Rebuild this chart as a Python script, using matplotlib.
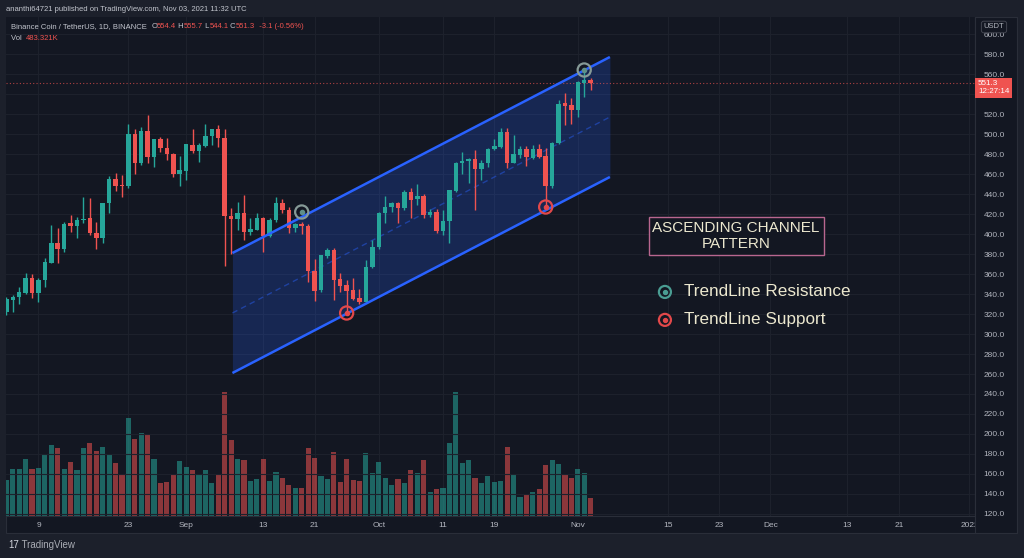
import numpy as np
import pandas as pd
import matplotlib
matplotlib.use('Agg')
import matplotlib.pyplot as plt
import matplotlib.dates as mdates
from matplotlib.patches import Rectangle
from matplotlib.text import Annotation

plt.rcParams['font.family'] = ['Liberation Sans', 'DejaVu Sans']

# BNB / USDT daily candles (first candle 4 Aug 2021)
start = '2021-08-04'
opens = [322, 334, 337, 341, 356, 341, 354, 371, 391, 385,
         411, 408, 414, 416, 401, 396, 431, 455, 449, 448,
         500, 471, 503, 477, 495, 486, 480, 460, 463, 489,
         483, 488, 498, 505, 496, 418, 415, 421, 402, 404,
         416, 398, 414, 431, 424, 406, 410, 408, 363, 344,
         378, 384, 355, 349, 344, 336, 332, 367, 387, 421,
         427, 431, 426, 442, 435, 438, 419, 422, 403, 413,
         443, 471, 473, 475, 465, 471, 485, 487, 502, 471,
         479, 485, 476, 485, 478, 448, 491, 531, 529, 524,
         551, 554.4]
highs = [337, 339, 347, 361, 360, 356, 376, 409, 406, 412,
         419, 417, 437, 436, 412, 431, 458, 461, 459, 510,
         505, 507, 519, 495, 497, 496, 481, 478, 490, 505,
         491, 510, 505, 509, 505, 426, 432, 439, 416, 421,
         417, 416, 437, 435, 427, 411, 412, 410, 375, 379,
         386, 386, 361, 354, 356, 345, 374, 394, 422, 438,
         432, 432, 444, 446, 450, 440, 425, 425, 424, 444,
         472, 482, 476, 484, 474, 486, 495, 506, 506, 499,
         488, 488, 489, 490, 486, 492, 534, 541, 536, 553,
         564, 555.7]
lows = [319, 322, 330, 340, 336, 332, 347, 371, 371, 382,
        402, 396, 411, 399, 385, 391, 421, 443, 437, 446,
        460, 469, 471, 467, 482, 474, 457, 448, 454, 481,
        472, 487, 489, 487, 368, 380, 404, 394, 399, 404,
        382, 397, 412, 421, 401, 402, 400, 352, 333, 342,
        376, 334, 342, 321, 334, 330, 332, 366, 385, 411,
        422, 411, 424, 416, 429, 416, 417, 401, 399, 391,
        442, 460, 451, 424, 454, 467, 484, 486, 466, 471,
        476, 468, 475, 476, 427, 446, 490, 509, 510, 517,
        537, 544.1]
closes = [335, 337, 342, 356, 341, 354, 372, 391, 385, 410,
          408, 414, 415, 401, 396, 431, 455, 448, 448, 500,
          471, 503, 477, 495, 486, 480, 460, 464, 490, 483,
          489, 498, 505, 496, 418, 415, 421, 402, 405, 416,
          398, 414, 431, 424, 406, 410, 408, 363, 343, 379,
          384, 354, 348, 343, 335, 332, 367, 387, 421, 427,
          431, 426, 442, 434, 438, 419, 422, 403, 413, 444,
          471, 473, 475, 465, 471, 485, 488, 502, 471, 480,
          485, 477, 485, 477, 448, 491, 530, 528, 524, 552,
          554, 551.3]
volume_k = [950, 1233, 1241, 1513, 1241, 1259, 1610, 1866, 1787, 1233,
            1418, 1214, 1787, 1927, 1716, 1814, 1637, 1391, 1109, 2595,
            2025, 2183, 2165, 1505, 879, 898, 1090, 1452, 1294, 1214,
            1074, 1206, 863, 1090, 3266, 2006, 1505, 1486, 916, 969,
            1497, 916, 1154, 1011, 818, 731, 731, 1803, 1539, 1056,
            977, 1682, 898, 1497, 950, 916, 1663, 1143, 1418, 1011,
            818, 969, 863, 1214, 1127, 1470, 626, 713, 747, 1919,
            3282, 1391, 1478, 1011, 871, 1056, 890, 932, 1814, 1090,
            510, 581, 626, 705, 1346, 1478, 1373, 1082, 995, 1241,
            1127, 483.3]

# ascending channel drawing
channel_dates = ['2021-09-08 05:00', '2021-11-06 00:00']
channel_upper = [381, 577]
channel_lower = [261, 457]

resist_dates = ['2021-09-19', '2021-11-02']
resist_prices = [422, 564]
support_dates = ['2021-09-26', '2021-10-27']
support_prices = [321, 427]

tick_dates = ['2021-08-09', '2021-08-23', '2021-09-01', '2021-09-13', '2021-09-21',
              '2021-10-01', '2021-10-11', '2021-10-19', '2021-11-01', '2021-11-15',
              '2021-11-23', '2021-12-01', '2021-12-13', '2021-12-21', '2022-01-01']
tick_labels = ['9', '23', 'Sep', '13', '21', 'Oct', '11', '19', 'Nov', '15',
               '23', 'Dec', '13', '21', '2022']
price_ticks = np.arange(120, 601, 20)
hidden_price_label = 540  # sits under the last-price tag

BG = '#131722'
OUTER = '#1c202b'
BORDER = '#2a2e39'
GRID = '#1d212c'
UP = '#26a69a'
DOWN = '#ef5350'
BLUE = '#2962ff'
TXT = '#b2b5be'
CREAM = '#ece8cf'
HDR = '#c3c6ce'

W, H = 1024, 558
fig = plt.figure(figsize=(W / 100, H / 100), dpi=100, facecolor=OUTER)

# panel frame and price-scale column
fig.add_artist(Rectangle((6 / W, 25 / H), 1011 / W, 516 / H, transform=fig.transFigure,
                         facecolor=BG, edgecolor=BORDER, lw=0.8, zorder=-1))
fig.add_artist(Rectangle((975 / W, 25 / H), 42 / W, 516 / H, transform=fig.transFigure,
                         facecolor=BG, edgecolor=BORDER, lw=0.8, zorder=1))

ax_vol = fig.add_axes([6 / W, 42 / H, 969 / W, 499 / H], facecolor=BG)
ax = ax_vol.twinx()
ax_vol.set_zorder(0)
ax.set_zorder(2)

dates = pd.date_range(start, periods=len(opens), freq='D')
x = mdates.date2num(dates)
o, h, l, c = (np.array(v, dtype=float) for v in (opens, highs, lows, closes))
colors = np.where(c >= o, UP, DOWN)

# volume
ax_vol.bar(x, volume_k, width=0.8, color=colors, alpha=0.55, zorder=2)
ax_vol.set_ylim(0, 13170)
ax_vol.tick_params(axis='y', left=False, labelleft=False)
ax_vol.set_xticks(mdates.date2num(pd.to_datetime(tick_dates)))
ax_vol.set_xticklabels(tick_labels)
ax_vol.tick_params(axis='x', length=0, pad=4, labelsize=6, colors=TXT)
ax_vol.grid(axis='x', color=GRID, lw=0.8)
ax_vol.set_axisbelow(True)
for s in ax_vol.spines.values():
    s.set_color(BORDER)
    s.set_linewidth(0.8)
ax_vol.spines['left'].set_visible(False)
ax_vol.spines['top'].set_visible(False)
for s in ax.spines.values():
    s.set_visible(False)

base = mdates.date2num(pd.Timestamp('2021-08-09'))
ax_vol.set_xlim(base - 5.06, base + 145.87)

# price axis
ax.set_ylim(118, 617)
ax.set_yticks(price_ticks)
ax.set_yticklabels(['' if p == hidden_price_label else f'{p:.1f}' for p in price_ticks])
ax.tick_params(axis='y', length=0, pad=6, labelsize=6, colors=TXT)
ax.grid(axis='y', color=GRID, lw=0.8)
ax.set_axisbelow(True)

# channel
cx = mdates.date2num(pd.to_datetime(channel_dates))
up_line = np.array(channel_upper, dtype=float)
lo_line = np.array(channel_lower, dtype=float)
ax.fill_between(cx, lo_line, up_line, color=BLUE, alpha=0.22, lw=0, zorder=1)
ax.plot(cx, up_line, color=BLUE, lw=1.8, solid_capstyle='butt', zorder=4)
ax.plot(cx, lo_line, color=BLUE, lw=1.8, solid_capstyle='butt', zorder=4)
ax.plot(cx, (up_line + lo_line) / 2, color=BLUE, lw=1, ls=(0, (4, 3)), alpha=0.45, zorder=2)

# candles
ax.vlines(x, l, h, colors=colors, lw=1, zorder=3)
ax.bar(x, np.maximum(np.abs(c - o), 1.2), bottom=np.minimum(o, c), width=0.7,
       color=colors, zorder=3)

# last price line
ax.axhline(c[-1], color=DOWN, lw=0.8, ls=(0, (1, 2)), alpha=0.7, zorder=2)

# touch markers
rx = mdates.date2num(pd.to_datetime(resist_dates))
sx = mdates.date2num(pd.to_datetime(support_dates))
ax.scatter(rx, resist_prices, s=90, facecolors='none', edgecolors='#869a97', linewidths=1.6, zorder=5)
ax.scatter(rx, resist_prices, s=9, color='#5f8f89', zorder=5)
ax.scatter(sx, support_prices, s=90, facecolors='none', edgecolors='#e2484a', linewidths=1.6, zorder=5)
ax.scatter(sx, support_prices, s=9, color='#e2484a', zorder=5)

# annotation box and legend
ax.text(0.7534, 0.561, 'ASCENDING CHANNEL\nPATTERN', transform=ax.transAxes,
        ha='center', va='center', fontsize=11, color=CREAM, linespacing=1.25,
        bbox=dict(boxstyle='square,pad=0.25', fc=BG, ec='#b8668f', lw=1), zorder=6)
legend_rows = [('TrendLine Resistance', '#4a9d93', 0.449), ('TrendLine Support', '#e2484a', 0.393)]
for label, mc, yy in legend_rows:
    ax.scatter([0.680], [yy], s=75, facecolors='none', edgecolors=mc, linewidths=1.6,
               transform=ax.transAxes, clip_on=False, zorder=6)
    ax.scatter([0.680], [yy], s=8, color=mc, transform=ax.transAxes, clip_on=False, zorder=6)
    ax.text(0.6997, yy, label, transform=ax.transAxes, ha='left', va='center',
            fontsize=12.3, color=CREAM, zorder=6)

# last price tag
ax.text(1.003, c[-1] - 5, f'{c[-1]:.1f}\n12:27:14', transform=ax.get_yaxis_transform(),
        ha='left', va='center', fontsize=5.8, color='white', linespacing=1.15,
        bbox=dict(boxstyle='square,pad=0.35', fc=DOWN, ec='none'), zorder=7)
fig.text(994 / W, 1 - 27 / H, 'USDT', ha='center', va='center', fontsize=5.5, color=TXT,
         bbox=dict(boxstyle='round,pad=0.3', fc=BG, ec='#434651', lw=0.7), zorder=8)


def chain_text(parts, x0, y0, size):
    # place coloured pieces one after another on the same baseline
    prev = fig.text(x0, y0, parts[0][0], color=parts[0][1], fontsize=size, va='baseline', zorder=8)
    for s, colr in parts[1:]:
        prev = fig.add_artist(Annotation(
            s, xy=(1, y0), xycoords=(prev, 'figure fraction'), color=colr,
            fontsize=size, va='baseline', ha='left', annotation_clip=False))
    return prev


fig.text(6 / W, 1 - 11 / H, 'ananthi64721 published on TradingView.com, Nov 03, 2021 11:32 UTC',
         fontsize=5.5, color=HDR, va='baseline')
chain_text([('Binance Coin / TetherUS, 1D, BINANCE  ', HDR), ('O', HDR), ('554.4', DOWN),
            (' H', HDR), ('555.7', DOWN), (' L', HDR), ('544.1', DOWN), (' C', HDR),
            ('551.3', DOWN), ('  -3.1 (-0.56%)', DOWN)], 11 / W, 1 - 28 / H, 5.5)
chain_text([('Vol  ', HDR), ('483.321K', DOWN)], 11 / W, 1 - 40 / H, 5.5)
chain_text([('17', '#d1d4dc'), (' TradingView', '#a9acb4')], 8 / W, 1 - 548 / H, 7)

fig.savefig('out.png', dpi=100, facecolor=OUTER)
